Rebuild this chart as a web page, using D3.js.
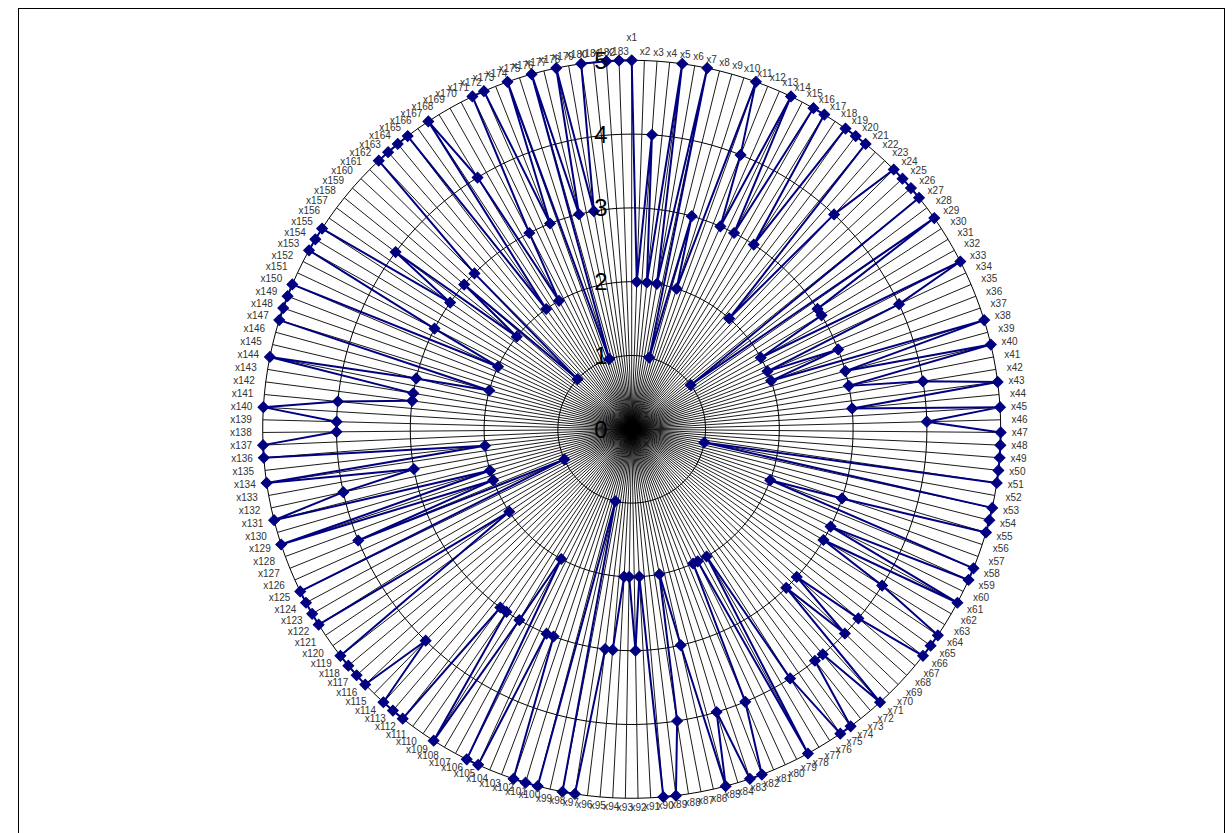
<!DOCTYPE html>
<html>
<head>
<meta charset="utf-8">
<script src="https://cdn.jsdelivr.net/npm/d3@7"></script>
<style>
  body { margin: 0; background: #fff; }
  svg { display: block; font-family: "Liberation Sans", Arial, sans-serif; }
</style>
</head>
<body>
<svg id="chart"></svg>
<script>
// category names x1 .. x183
var categories = d3.range(1, 184).map(function(i) { return "x" + i; });

// series values (null = empty cell, skipped by the line)
var values = [
  5, 2, 4, 2, 5, 2, 5, 1, 3, 2,      // x1-x10
  5, 4, 3, 5, 3, 5, 5, 3, 5, 5,      // x11-x20
  5, 2, 4, 5, 5, 5, 5, 1, 5, 3,      // x21-x30
  3, 2, 5, 4, 2, 3, 2, 5, 3, 5,      // x31-x40
  3, 4, 5, 3, 5, 4, 5, 5, 5, 5,      // x41-x50
  5, 1, 5, 5, 5, 3, 2, 5, 5, 3,      // x51-x60
  5, 3, 4, 5, 5, 5, 4, 3, 4, 3,      // x61-x70
  5, 4, 4, 5, 5, 4, 2, 5, 2, 2,      // x71-x80
  4, 5, 5, 4, 5, 3, 2, 4, 5, 5,      // x81-x90
  2, 3, 2, 2, 3, 3, 5, 5, 1, 5,      // x91-x100
  5, 5, 3, 3, 5, 5, 2, 3, 5, 3,      // x101-x110
  3, 5, 5, 5, 4, 5, 5, 5, 5, null,   // x111-x120
  2, 5, 5, 5, 5, 1, 4, 2, 5, 2,      // x121-x130
  5, 4, 3, 5, 2, 5, 5, 4, 4, 5,      // x131-x140
  4, 3, 3, 5, 3, 2, 5, 5, 5, 5,      // x141-x150
  2, 3, 5, 5, 5, 3, 4, 2, 3, 1,      // x151-x160
  3, 5, 5, 5, 5, 2, 5, 4, 2, 3,      // x161-x170
  5, 5, 3, 5, 1, 5, 3, 5, 3, 5,      // x171-x180
  null, 5, 5                         // x181-x183
];

var ticks = [0, 1, 2, 3, 4, 5];

var width = 1232;
var height = 833;
var cx = 631.7, cy = 429.3;   // centre of the radar
var R = 369;                  // radius of the outer ring

var svg = d3.select("#chart")
            .attr("width", width)
            .attr("height", height);

// chart area border
svg.append("rect")
   .attr("x", 18.5)
   .attr("y", 8.5)
   .attr("width", 1206)
   .attr("height", 860)
   .attr("fill", "none")
   .attr("stroke", "#000")
   .attr("stroke-width", 1);

var g = svg.append("g")
           .attr("transform", "translate(" + cx + "," + cy + ")");

var angle = d3.scaleLinear()
              .domain([0, categories.length])
              .range([0, 2 * Math.PI]);

var radius = d3.scaleLinear()
               .domain([0, 5])
               .range([0, R]);

/* spokes */
g.selectAll("line.spoke")
 .data(categories)
 .enter()
 .append("line")
 .attr("class", "spoke")
 .attr("x1", 0)
 .attr("y1", 0)
 .attr("x2", function(d, i) { return radius(5) * Math.sin(angle(i)); })
 .attr("y2", function(d, i) { return -radius(5) * Math.cos(angle(i)); })
 .attr("stroke", "#000")
 .attr("stroke-width", 0.9);

/* rings */
g.selectAll("path.ring")
 .data(ticks.slice(1))
 .enter()
 .append("path")
 .attr("class", "ring")
 .attr("d", function(t) {
   return d3.lineRadial()
            .angle(function(d, i) { return angle(i); })
            .radius(radius(t))
            .curve(d3.curveLinearClosed)(categories);
 })
 .attr("fill", "none")
 .attr("stroke", "#000")
 .attr("stroke-width", 1);

/* series */
var points = values
  .map(function(v, i) { return { i: i, v: v }; })
  .filter(function(d) { return d.v != null; });

var line = d3.lineRadial()
             .angle(function(d) { return angle(d.i); })
             .radius(function(d) { return radius(d.v); })
             .curve(d3.curveLinearClosed);

g.append("path")
 .attr("d", line(points))
 .attr("fill", "none")
 .attr("stroke", "#000080")
 .attr("stroke-width", 2)
 .attr("stroke-linejoin", "round");

g.selectAll("path.marker")
 .data(points)
 .enter()
 .append("path")
 .attr("class", "marker")
 .attr("d", d3.symbol().type(d3.symbolSquare).size(58))
 .attr("transform", function(d) {
   var x = radius(d.v) * Math.sin(angle(d.i));
   var y = -radius(d.v) * Math.cos(angle(d.i));
   return "translate(" + x + "," + y + ") rotate(45)";
 })
 .attr("fill", "#000080")
 .attr("stroke", "#000080")
 .attr("stroke-width", 1);

/* value axis labels */
g.selectAll("text.tick")
 .data(ticks)
 .enter()
 .append("text")
 .attr("class", "tick")
 .text(function(d) { return d; })
 .attr("x", -24)
 .attr("y", function(d) { return -radius(d); })
 .attr("dy", "0.35em")
 .attr("text-anchor", "end")
 .style("font-size", "24px")
 .attr("fill", "#000");

/* category labels */
var clamp = function(v) { return Math.max(-1, Math.min(1, v)); };

g.selectAll("text.cat")
 .data(categories)
 .enter()
 .append("text")
 .attr("class", "cat")
 .text(function(d) { return d; })
 .style("font-size", "10px")
 .attr("fill", "#333")
 .attr("text-anchor", "middle")
 .attr("dy", "0.35em")
 .each(function(d, i) {
   var s = Math.sin(angle(i));
   var c = Math.cos(angle(i));
   var w = this.getComputedTextLength();
   var h = 10;
   var px = radius(5) * s;
   var py = -radius(5) * c;
   var x = px + s * 11 + (w / 2) * clamp(s * 2);
   var y = py - c * 4 - (h / 2) * clamp(c * 2);
   if (i === 0) { y -= 14; }
   d3.select(this).attr("x", x).attr("y", y);
 });
</script>
</body>
</html>
